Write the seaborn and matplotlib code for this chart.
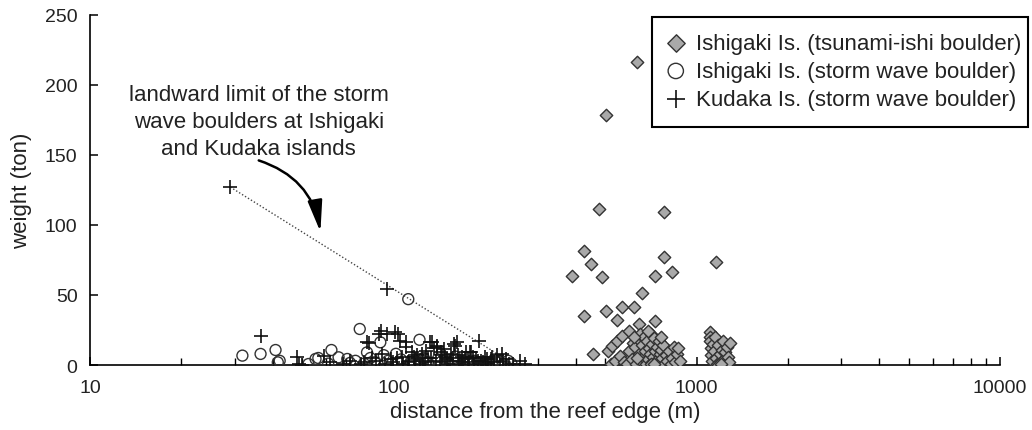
import numpy as np
import pandas as pd
import matplotlib
matplotlib.use("Agg")
import matplotlib.pyplot as plt
import seaborn as sns
from matplotlib.patches import Rectangle
from matplotlib.ticker import LogLocator, FixedLocator, FixedFormatter, NullFormatter

# ---------------- data ----------------
# Ishigaki Is. (tsunami-ishi boulder)
tsunami_x = [638, 501, 476, 780, 425, 450, 387, 489, 780, 729, 830, 1156, 661, 425, 501, 566,
             622, 548, 647, 729, 456,
             509, 527, 548, 566, 600,
             520, 540, 560, 575, 590, 600, 610, 615, 625, 630, 640, 645, 650, 655, 660, 665,
             670, 675, 680, 685, 690, 695, 700, 705, 710, 715, 720, 725, 730, 735, 740, 745,
             750, 755, 760, 765, 770, 775, 780, 790, 800, 810, 820, 830, 840, 850, 860, 870,
             880, 620, 635, 705, 690, 725, 760,
             1105, 1110, 1108, 1115, 1112, 1120, 1130, 1140, 1150, 1160, 1170, 1180, 1190,
             1200, 1210, 1220, 1230, 1240, 1250, 1260, 1270, 1280, 1285, 1180, 1200]
tsunami_y = [216, 178.6, 111, 109.5, 81.6, 71.9, 63.4, 62.9, 77.4, 63.8, 66.4, 73.6, 51.4, 34.8, 38.8, 41.7,
             41.7, 32.1, 29.5, 31.2, 7.9,
             10, 13.8, 17.4, 21, 24.5,
             1, 3, 6.6, 2, 0.5, 10, 4, 16, 12.8, 1, 18.6, 8, 22, 3, 14, 6,
             20, 10, 1, 17, 4, 12, 8, 22, 2, 15, 6, 19, 10, 1, 13, 4,
             17, 8, 2, 11, 5, 14, 0.5, 7, 3, 10, 1, 5, 13, 2, 8, 12,
             3, 20, 5, 1, 24, 1, 20,
             23.5, 20, 17, 12, 7, 3, 15, 10, 20, 5, 1, 14, 8,
             2, 11, 17, 4, 9, 0.5, 13, 6, 2, 16, 0, 1]

# Ishigaki Is. (storm wave boulder)
storm_ishigaki_x = [31.8, 36.5, 40.9, 41.6, 42.2, 52.5, 55.4, 56.6, 61, 62.5, 66, 70.5, 72, 75,
                    77.5, 80, 81.9, 84, 87, 90.6, 93, 96, 99, 102, 106, 112, 114, 122, 126,
                    130, 140, 150, 160, 170, 185, 200, 215, 239, 245]
storm_ishigaki_y = [6.7, 7.9, 10.7, 1.9, 3, 0.7, 4.3, 5, 1, 10.7, 5.5, 4.3, 1.5, 3,
                    25.7, 1, 9, 5, 2, 16.2, 7, 3, 1, 8, 4, 47, 2, 18, 5,
                    2, 4, 2, 6, 1, 3, 2, 4, 3, 1]

# Kudaka Is. (storm wave boulder)
kudaka_x = [29, 36.7, 48, 49, 50, 59, 62, 68, 72, 78, 80, 82, 83, 85, 88, 89.5, 91, 92, 94, 95.3,
            95, 98, 101.6, 104, 105.5, 107, 110, 110, 112, 115, 118, 120, 122, 125, 128, 130,
            132, 134, 136, 139, 139, 142, 145, 147, 150, 152, 155, 158, 160, 162, 165, 168,
            170, 173, 176, 179, 181, 185, 188, 191, 195, 200, 205, 210, 215, 220, 228, 230,
            235, 240, 248, 262, 272,
            100, 103, 108, 113, 117, 124, 127, 133, 138, 144, 148, 154, 157, 163, 167, 172,
            178, 183, 190, 198, 203, 212, 225]
kudaka_y = [127, 21, 5.5, 1, 0.3, 6.7, 2, 1, 3, 0.5, 2, 16.2, 16, 5, 3, 22, 24.5, 8, 1, 54.3,
            22, 4, 23.3, 22, 17.4, 6, 12.6, 16.2, 2, 9, 4, 7, 1, 3, 10, 5,
            16.2, 16.2, 12, 12.6, 13.8, 2, 7, 11.4, 4, 1, 8, 15, 13.8, 16.2, 3, 6,
            2, 9, 4, 9, 9, 1, 5, 17.4, 3, 6, 1, 4, 2, 7, 7.9, 2,
            4, 0.7, 1, 3, 0.7,
            2, 5, 1, 3, 6, 8, 2, 5, 3, 9, 6, 3, 5, 7, 1, 5,
            2, 6, 3, 2, 4, 6, 3]

# landward limit line (dotted)
limit_x = [29, 252]
limit_y = [127, 0]

series_labels = ["Ishigaki Is. (tsunami-ishi boulder)",
                 "Ishigaki Is. (storm wave boulder)",
                 "Kudaka Is. (storm wave boulder)"]
x_ticks = [10, 100, 1000, 10000]
x_tick_labels = ["10", "100", "1000", "10000"]
y_ticks = [0, 50, 100, 150, 200, 250]

annotation_text = "landward limit of the storm\nwave boulders at Ishigaki\nand Kudaka islands"

# ---------------- plot ----------------
sns.set_theme(style="white")
plt.rcParams['font.family'] = ['Liberation Sans', 'DejaVu Sans']

W, H = 1032, 431
fig = plt.figure(figsize=(W / 100, H / 100), dpi=100)
ax = fig.add_axes([0.0872, 0.1508, 0.969 - 0.0872, 0.9636 - 0.1508])

ax.plot(limit_x, limit_y, linestyle=(0, (1, 1.5)), color="#444444", linewidth=1.0, zorder=1)

sns.scatterplot(x=tsunami_x, y=tsunami_y, ax=ax, marker="D", s=40,
                facecolor="#a9a9a9", edgecolor="#333333", linewidth=1.0,
                label=series_labels[0], zorder=3)
sns.scatterplot(x=storm_ishigaki_x, y=storm_ishigaki_y, ax=ax, marker="o", s=62,
                facecolor="none", edgecolor="#333333", linewidth=1.0,
                label=series_labels[1], zorder=3)
sns.scatterplot(x=kudaka_x, y=kudaka_y, ax=ax, marker="+", s=90,
                color="#111111", linewidth=1.2,
                label=series_labels[2], zorder=4)

ax.set_xscale("log")
ax.set_xlim(10, 10000)
ax.set_ylim(0, 250)
ax.xaxis.set_major_locator(FixedLocator(x_ticks))
ax.xaxis.set_major_formatter(FixedFormatter(x_tick_labels))
ax.xaxis.set_minor_locator(LogLocator(base=10, subs=np.arange(2, 10)))
ax.xaxis.set_minor_formatter(NullFormatter())
ax.set_yticks(y_ticks)

for s in ["top", "right"]:
    ax.spines[s].set_visible(False)
for s in ["left", "bottom"]:
    ax.spines[s].set_color("black")
    ax.spines[s].set_linewidth(1.2)

ax.tick_params(axis="both", which="major", direction="in", length=6, width=1.1,
               colors="black", labelsize=14)
ax.tick_params(axis="x", which="major", pad=10, bottom=True)
ax.tick_params(axis="y", which="major", pad=9, left=True)
ax.tick_params(axis="x", which="minor", direction="in", length=5, width=1.0,
               colors="black", bottom=True)
for lab in ax.get_xticklabels() + ax.get_yticklabels():
    lab.set_color("#222222")

ax.set_xlabel("distance from the reef edge (m)", fontsize=16, color="#222222", labelpad=4)
ax.set_ylabel("weight (ton)", fontsize=16, color="#222222", labelpad=9)

ax.text(36, 173.5, annotation_text, fontsize=16, ha="center", va="center",
        color="#222222", linespacing=1.38)
ax.annotate("", xy=(57.5, 95), xytext=(36, 146),
            arrowprops=dict(arrowstyle="-|>,head_length=0.95,head_width=0.22",
                            connectionstyle="arc3,rad=-0.3",
                            shrinkA=0, shrinkB=0,
                            color="black", linewidth=1.8, mutation_scale=20))

leg = ax.legend(loc="upper left", bbox_to_anchor=(648 / W, 1 - 17 / H),
                bbox_transform=fig.transFigure, frameon=False,
                fontsize=16, handlelength=1.0, handletextpad=0.4, labelspacing=0.32,
                borderpad=0.75, markerscale=1.4, borderaxespad=0)
for t in leg.get_texts():
    t.set_color("#222222")

# legend frame
fig.patches.append(Rectangle((652 / W, 1 - 128 / H), 376 / W, 110 / H,
                             transform=fig.transFigure, fill=False,
                             edgecolor="black", linewidth=1.5, zorder=5))

fig.savefig("out.png", dpi=100)
